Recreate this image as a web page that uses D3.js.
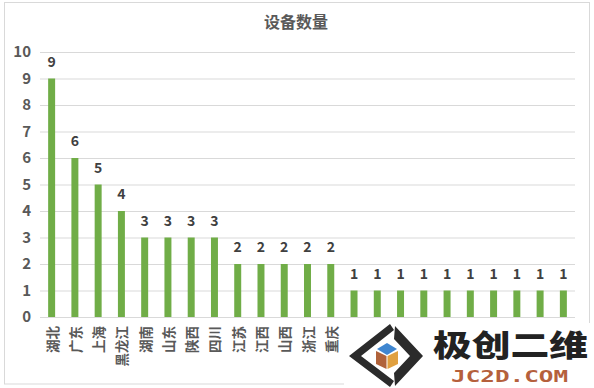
<!DOCTYPE html>
<html>
<head>
<meta charset="utf-8">
<script src="https://cdn.jsdelivr.net/npm/d3@7"></script>
<style>
  html, body { margin: 0; padding: 0; background: #fff; }
  svg { display: block; }
  text { font-family: "Noto Sans CJK SC", sans-serif; }
  .domain { display: none; }
</style>
</head>
<body>
<div id="chart"></div>
<script>
// the last ten category names are hidden behind the logo in the picture
var categories = ["湖北", "广东", "上海", "黑龙江", "湖南", "山东", "陕西", "四川", "江苏", "江西", "山西", "浙江", "重庆",
  "", "", "", "", "", "", "", "", "", ""];
var counts = [9, 6, 5, 4, 3, 3, 3, 3, 2, 2, 2, 2, 2, 1, 1, 1, 1, 1, 1, 1, 1, 1, 1];
var yTicks = [0, 1, 2, 3, 4, 5, 6, 7, 8, 9, 10];

var svgWidth = 594;
var svgHeight = 388;

var margin = { top: 52, right: 19, bottom: 71, left: 40 };
var width = svgWidth - margin.left - margin.right;
var height = svgHeight - margin.top - margin.bottom;

var svg = d3.select("#chart")
  .append("svg")
  .attr("width", svgWidth)
  .attr("height", svgHeight);

// chart frame
svg.append("rect")
  .attr("x", 4.5).attr("y", 2.5)
  .attr("width", 585).attr("height", 381.5)
  .attr("fill", "#fff")
  .attr("stroke", "#d9d9d9");

svg.append("text")
  .attr("x", 296).attr("y", 28)
  .attr("text-anchor", "middle")
  .attr("font-size", 16)
  .attr("font-weight", 700)
  .attr("fill", "#595959")
  .text("设备数量");

var chartGroup = svg.append("g")
  .attr("transform", `translate(${margin.left}, ${margin.top})`);

var xScale = d3.scaleBand()
  .domain(d3.range(categories.length))
  .range([0, width])
  .paddingInner(0.7)
  .paddingOuter(0.35);

var yScale = d3.scaleLinear()
  .domain([0, 10])
  .range([height, 0]);

// gridlines + y labels
var yAxis = chartGroup.append("g")
  .call(d3.axisLeft(yScale).tickValues(yTicks).tickSize(-width).tickPadding(9));
yAxis.selectAll("line").attr("stroke", "#d9d9d9");
yAxis.selectAll("text")
  .attr("font-size", 15)
  .attr("font-weight", 700)
  .attr("fill", "#595959");

chartGroup.selectAll("rect.bar")
  .data(counts)
  .enter()
  .append("rect")
  .attr("class", "bar")
  .attr("x", (d, i) => xScale(i))
  .attr("y", d => yScale(d))
  .attr("width", xScale.bandwidth())
  .attr("height", d => height - yScale(d))
  .attr("fill", "#70ad47");

chartGroup.selectAll("text.value")
  .data(counts)
  .enter()
  .append("text")
  .attr("class", "value")
  .attr("x", (d, i) => xScale(i) + xScale.bandwidth() / 2)
  .attr("y", d => yScale(d) - 12)
  .attr("text-anchor", "middle")
  .attr("font-size", 14)
  .attr("font-weight", 700)
  .attr("fill", "#404040")
  .text(d => d);

// category labels, turned to read bottom to top
var xAxis = chartGroup.append("g")
  .attr("transform", `translate(0, ${height})`)
  .call(d3.axisBottom(xScale).tickSize(0).tickFormat(i => categories[i]));
xAxis.selectAll("text")
  .attr("y", 0)
  .attr("dy", 0)
  .attr("font-size", 13.5)
  .attr("font-weight", 700)
  .attr("fill", "#595959")
  .attr("text-anchor", "end")
  .attr("dominant-baseline", "central")
  .attr("transform", "translate(0, 9) rotate(-90)");

// logo patch over the bottom right corner
var logo = svg.append("g");
logo.append("rect")
  .attr("x", 344).attr("y", 323)
  .attr("width", 250).attr("height", 65)
  .attr("fill", "#fff");
logo.append("path")
  .attr("d", "M390 324 L349 356 L390 387 L394 381 L361 356 L394 330 Z M395 326 L394 339 L410 356 L394 373 L395 386 L423 356 Z")
  .attr("fill", "#2b2b2b");
logo.append("path").attr("d", "M377 349 L387 343 L397 349 L387 355 Z").attr("fill", "#3f86d0");
logo.append("path").attr("d", "M376 351 L386.5 356 L386.5 369 L376 364 Z").attr("fill", "#b0623a");
logo.append("path").attr("d", "M387.5 356 L398 351 L398 364 L387.5 369 Z").attr("fill", "#e0a040");

logo.append("text")
  .attr("x", 433).attr("y", 356)
  .attr("font-size", 30)
  .attr("font-weight", 900)
  .attr("fill", "#222")
  .attr("textLength", 155)
  .attr("lengthAdjust", "spacingAndGlyphs")
  .text("极创二维");
logo.append("text")
  .attr("x", 451).attr("y", 382)
  .attr("style", "font-family:'DejaVu Sans Mono'")
  .attr("font-size", 16)
  .attr("font-weight", 700)
  .attr("fill", "#b5603c")
  .attr("textLength", 117)
  .attr("lengthAdjust", "spacingAndGlyphs")
  .text("JC2D.COM");
</script>
</body>
</html>
